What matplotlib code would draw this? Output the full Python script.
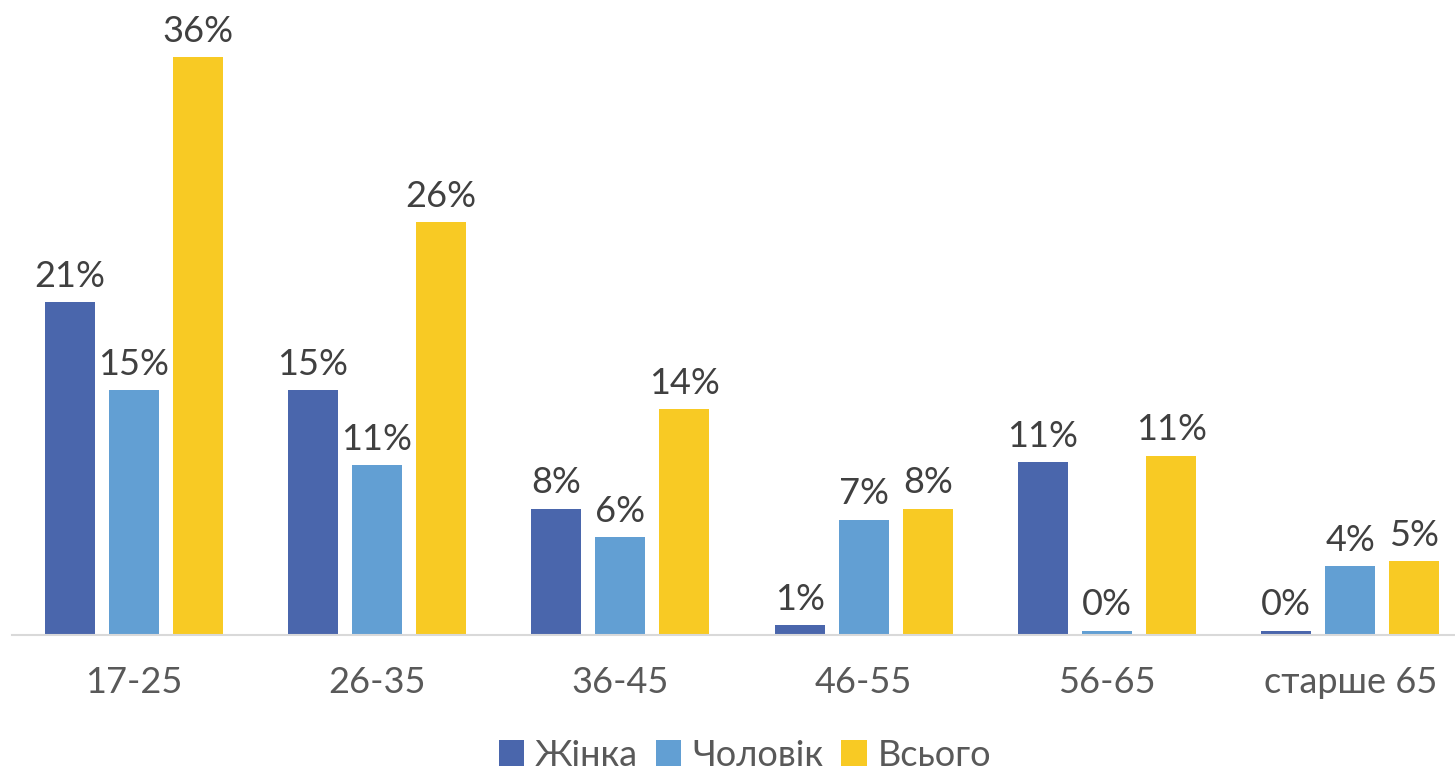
import numpy as np
import matplotlib
matplotlib.use('Agg')
import matplotlib.pyplot as plt

plt.rcParams['font.family'] = ['Lato', 'DejaVu Sans']

categories = ['17-25', '26-35', '36-45', '46-55', '56-65', 'старше 65']
series = ['Жінка', 'Чоловік', 'Всього']
zhinka   = [20.8, 15.3, 7.9, 0.6, 10.8, 0.25]
cholovik = [15.3, 10.6, 6.1, 7.2, 0.25, 4.3]
vsogo    = [36.1, 25.8, 14.1, 7.9, 11.2, 4.6]
colors = ['#4A66AC', '#629FD3', '#F8CA24']

fig = plt.figure(figsize=(14.55, 7.73), dpi=100)
ax = fig.add_axes([12/1455, 138/773, 1460/1455, 624/773])

x = np.arange(len(categories))
w = 50/243
step = 64/243
for i, (vals, c, name) in enumerate(zip([zhinka, cholovik, vsogo], colors, series)):
    pos = x + (i - 1)*step
    ax.bar(pos, vals, width=w, color=c, label=name)
    for p, v in zip(pos, vals):
        ax.text(p, v + 0.6, f"{round(v + 1e-9):.0f}%", ha='center', va='bottom',
                fontsize=26, color='#404040')

ax.set_xlim(-0.5, len(categories) - 0.5)
ax.set_ylim(0, 39)
ax.set_xticks(x)
ax.set_xticklabels(categories, fontsize=26, color='#595959')
ax.tick_params(axis='x', length=0, pad=22)
ax.set_yticks([])
for s in ['top', 'right', 'left']:
    ax.spines[s].set_visible(False)
ax.spines['bottom'].set_color('#D9D9D9')
ax.spines['bottom'].set_linewidth(1.5)

leg = fig.legend(loc='center', bbox_to_anchor=(745/1455, 1 - 755/773), ncol=3,
                 frameon=False, fontsize=26, handlelength=0.7, handleheight=0.7,
                 handletextpad=0.3, columnspacing=0.5)
for t in leg.get_texts():
    t.set_color('#595959')

fig.savefig('out.png', dpi=100)
plt.close(fig)
